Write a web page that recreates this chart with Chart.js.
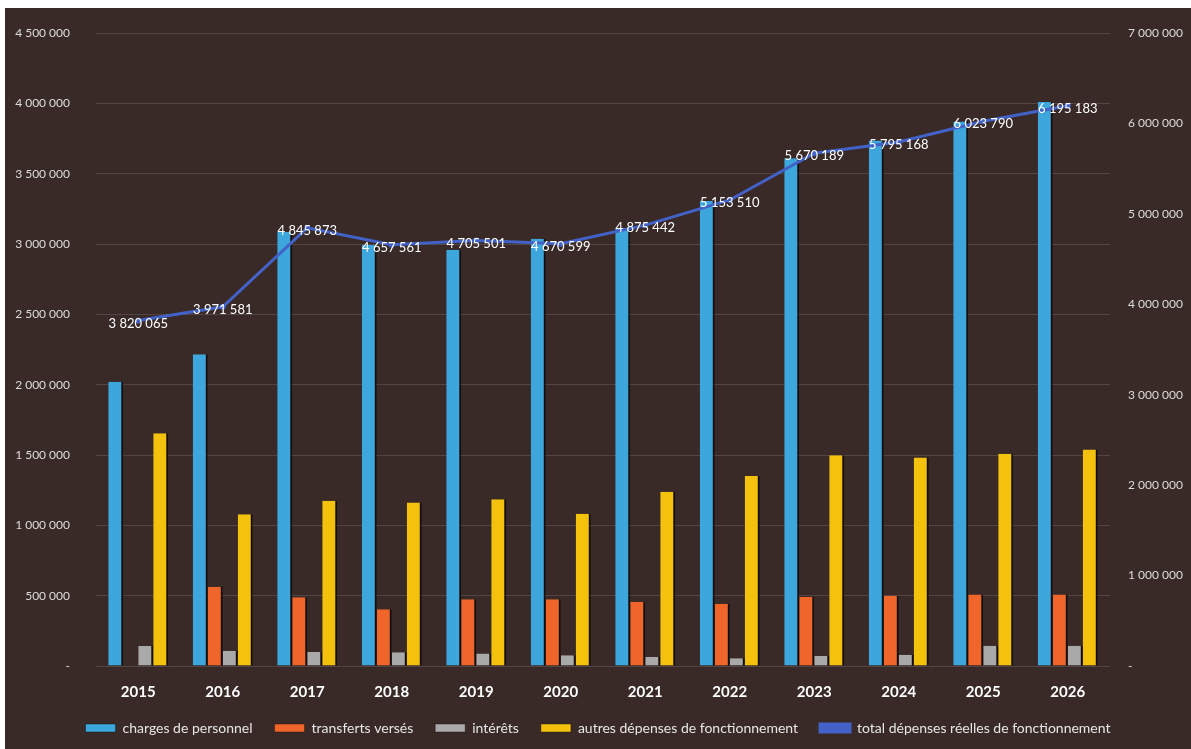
<!DOCTYPE html>
<html lang="fr">
<head>
<meta charset="utf-8">
<title>Dépenses réelles de fonctionnement</title>
<script src="https://cdn.jsdelivr.net/npm/chart.js@4.4.1/dist/chart.umd.min.js"></script>
<style>
  body { margin: 0; background: #ffffff; }
  .chart__display {
    position: absolute;
    left: 5px;
    top: 8px;
    width: 1186px;
    height: 741px;
    background: #392a28;
  }
</style>
</head>
<body>
<div class="chart__display">
  <canvas id="depensesChart" width="1186" height="741"></canvas>
</div>
<script>
const years = ["2015", "2016", "2017", "2018", "2019", "2020", "2021", "2022", "2023", "2024", "2025", "2026"];

const chargesPersonnel = [2020000, 2216000, 3085000, 2995000, 2960000, 3038000, 3115000, 3305000, 3610000, 3735000, 3870000, 4010000];
const transfertsVerses = [0, 563000, 488000, 403000, 474000, 474000, 457000, 443000, 490000, 500000, 509000, 509000];
const interets = [142000, 109000, 99000, 97000, 88000, 76000, 64000, 55000, 71000, 80000, 144000, 144000];
const autresDepenses = [1655000, 1078000, 1174000, 1163000, 1186000, 1082000, 1238000, 1350000, 1499000, 1482000, 1508000, 1539000];
const totalDepenses = [3820065, 3971581, 4845873, 4657561, 4705501, 4670599, 4875442, 5153510, 5670189, 5795168, 6023790, 6195183];

// 4 500 000 style, dash for zero
const fmt = (v) => {
    if (v === 0) return "-";
    return String(Math.round(v)).replace(/\B(?=(\d{3})+(?!\d))/g, " ");
};

const FONT = "Lato, 'Open Sans', sans-serif";

// white value labels sitting on the total line
const lineLabels = {
    id: "lineLabels",
    afterDatasetsDraw(chart) {
        const meta = chart.getDatasetMeta(4);
        const ctx = chart.ctx;
        ctx.save();
        ctx.font = "13px " + FONT;
        ctx.fillStyle = "#ffffff";
        ctx.textAlign = "center";
        ctx.textBaseline = "middle";
        meta.data.forEach((pt, i) => {
            ctx.fillText(fmt(totalDepenses[i]), pt.x, pt.y + 3);
        });
        ctx.restore();
    }
};

const barShadow = { top: 0, right: 2, bottom: 0, left: 0 };

const data = {
    labels: years,
    datasets: [
        {
            label: "charges de personnel",
            data: chargesPersonnel,
            backgroundColor: "#3ca6dd",
            borderColor: "rgba(10,5,5,0.75)",
            borderWidth: barShadow,
            yAxisID: "y",
            order: 1
        },
        {
            label: "transferts versés",
            data: transfertsVerses,
            backgroundColor: "#f0662a",
            borderColor: "rgba(10,5,5,0.75)",
            borderWidth: barShadow,
            yAxisID: "y",
            order: 1
        },
        {
            label: "intérêts",
            data: interets,
            backgroundColor: "#a9a9a9",
            borderColor: "rgba(10,5,5,0.75)",
            borderWidth: barShadow,
            yAxisID: "y",
            order: 1
        },
        {
            label: "autres dépenses de fonctionnement",
            data: autresDepenses,
            backgroundColor: "#f4c20d",
            borderColor: "rgba(10,5,5,0.75)",
            borderWidth: barShadow,
            yAxisID: "y",
            order: 1
        },
        {
            type: "line",
            label: "total dépenses réelles de fonctionnement",
            data: totalDepenses,
            borderColor: "#4262c8",
            backgroundColor: "#4262c8",
            borderWidth: 3,
            pointRadius: 3,
            pointBackgroundColor: "#4262c8",
            pointBorderWidth: 0,
            tension: 0,
            yAxisID: "y1",
            order: 0
        }
    ]
};

const config = {
    type: "bar",
    data,
    options: {
        responsive: false,
        animation: false,
        layout: { padding: { top: 25, right: 0, bottom: 4, left: 0 } },
        datasets: {
            bar: { categoryPercentage: 0.71, barPercentage: 1 }
        },
        plugins: {
            tooltip: { enabled: false },
            legend: {
                position: "bottom",
                labels: {
                    color: "#e6e6e6",
                    font: { family: FONT, size: 14 },
                    boxWidth: 30,
                    boxHeight: 8,
                    padding: 22,
                    sort: (a, b) => a.datasetIndex - b.datasetIndex
                }
            }
        },
        scales: {
            x: {
                grid: { display: false },
                border: { display: false },
                ticks: {
                    color: "#ffffff",
                    font: { family: FONT, size: 15, weight: "bold" },
                    padding: 9
                },
                afterFit: (scale) => { scale.height = 33; }
            },
            y: {
                position: "left",
                min: 0,
                max: 4500000,
                // transparent tick marks push the labels away from the plot
                grid: { color: "rgba(255,255,255,0.13)", drawTicks: true, tickLength: 26, tickColor: "rgba(0,0,0,0)" },
                border: { display: false },
                ticks: {
                    stepSize: 500000,
                    color: "#dcdcdc",
                    font: { family: FONT, size: 12 },
                    padding: 0,
                    callback: (v) => fmt(v)
                },
                afterFit: (scale) => { scale.width = 91; }
            },
            y1: {
                position: "right",
                min: 0,
                max: 7000000,
                grid: { display: false, drawTicks: true, tickLength: 18 },
                border: { display: false },
                ticks: {
                    stepSize: 1000000,
                    color: "#dcdcdc",
                    font: { family: FONT, size: 12 },
                    padding: 0,
                    callback: (v) => fmt(v)
                },
                afterFit: (scale) => { scale.width = 81; }
            }
        }
    },
    plugins: [lineLabels]
};

var myChart = new Chart(document.getElementById("depensesChart"), config);
</script>
</body>
</html>
